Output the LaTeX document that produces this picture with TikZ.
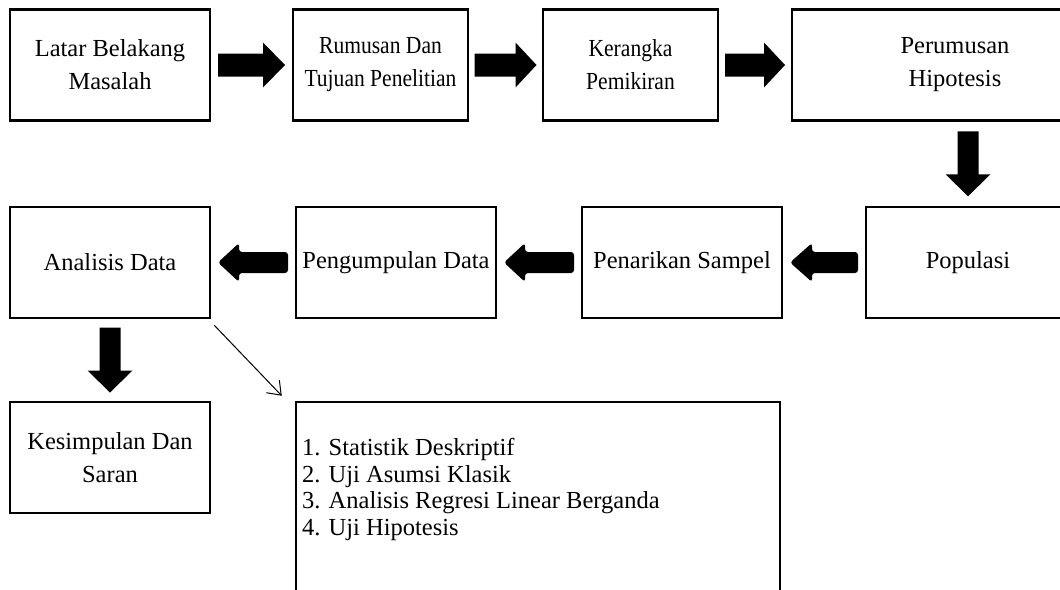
\documentclass[tikz,border=0pt]{standalone}
\usepackage{fontspec}
\setmainfont{Liberation Serif}
\newfontfamily\narrowfont[FakeStretch=0.88]{Liberation Serif}
\usetikzlibrary{calc,arrows.meta}
% #1 centre, #2 rotation, #3 length, #4 shaft width, #5 head width, #6 head length, #7 corner style
\newcommand\blockarr[7]{%
  \begin{scope}[shift={(#1)},rotate=#2]
    \fill[#7] ({-#3/2},{-#4/2}) -- ({#3/2-#6},{-#4/2}) -- ({#3/2-#6},{-#5/2})
      -- ({#3/2},0) -- ({#3/2-#6},{#5/2}) -- ({#3/2-#6},{#4/2}) -- ({-#3/2},{#4/2}) -- cycle;
  \end{scope}}
\begin{document}
\begin{tikzpicture}[x=1pt,y=-1pt,
  box/.style={draw,line width=2.5pt,inner sep=0pt,minimum height=111pt,align=center,
    font=\fontsize{24.5}{33}\selectfont},
  narrowbox/.style={box,font=\narrowfont\fontsize{24.5}{33}\selectfont},
  listtext/.style={align=left,inner sep=0pt,font=\fontsize{24.5}{26.7}\selectfont},
  thin/.style={line width=1pt,-{Straight Barb[length=12pt,width=18pt]}}]
\useasboundingbox (0,0) rectangle (1060,589);
\fill[white] (0,0) rectangle (1060,589);
\clip (0,0) rectangle (1060,589);
% boxes
\node[box,minimum width=200pt] (lat) at (110,65) {Latar Belakang\\Masalah};
\node[narrowbox,minimum width=175pt] (rum) at (380.5,65) {Rumusan Dan\\Tujuan Penelitian};
\node[narrowbox,minimum width=175pt] (ker) at (630.5,65) {Kerangka\\Pemikiran};
\node[box,minimum width=326pt] (per) at (955,65) {Perumusan\\Hipotesis};
\node[box,minimum width=204pt] (pop) at (968,262.5) {Populasi};
\node[box,minimum width=200pt] (pen) at (682,262.5) {Penarikan Sampel};
\node[box,minimum width=200pt] (pgm) at (396,262.5) {Pengumpulan Data};
\node[box,minimum width=200pt] (ana) at (110,262.5) {Analisis Data};
\node[box,minimum width=200pt] (kes) at (110,457.5) {Kesimpulan Dan\\Saran};
\node[box,minimum width=484pt,minimum height=238pt] (lst) at (538,521) {};
\node[listtext,anchor=north west] (lsttxt) at (302,438) {1. Statistik Deskriptif\\2. Uji Asumsi Klasik\\3. Analisis Regresi Linear Berganda\\4. Uji Hipotesis};
% block arrows
\coordinate (a1) at ($(lat.east)!0.5!(rum.west)$);
\coordinate (a2) at ($(rum.east)!0.5!(ker.west)$);
\coordinate (a3) at ($(ker.east)!0.5!(per.west)$);
\coordinate (a4) at ($(pop.north |- per.south)!0.5!(pop.north)$);
\coordinate (a5) at ($(pop.west)!0.5!(pen.east)$);
\coordinate (a6) at ($(pen.west)!0.5!(pgm.east)$);
\coordinate (a7) at ($(pgm.west)!0.5!(ana.east)$);
\coordinate (a8) at ($(ana.south)!0.5!(kes.north)$);
\blockarr{a1}{0}{67}{23}{45}{22}{sharp corners}
\blockarr{a2}{0}{62}{23}{45}{21}{sharp corners}
\blockarr{a3}{0}{60}{23}{45}{21}{sharp corners}
\blockarr{a4}{-90}{65}{21}{45}{22}{sharp corners}
\blockarr{a5}{180}{68}{21}{39}{22}{rounded corners=3pt}
\blockarr{a6}{180}{70}{21}{39}{21}{rounded corners=3pt}
\blockarr{a7}{180}{70}{21}{39}{21}{rounded corners=3pt}
\blockarr{a8}{-90}{65}{21}{45}{22}{sharp corners}
% thin arrow
\draw[thin] ($(ana.south east)+(3,6)$) -- ($(lst.north west)+(-13,-5)$);
\end{tikzpicture}
\end{document}
